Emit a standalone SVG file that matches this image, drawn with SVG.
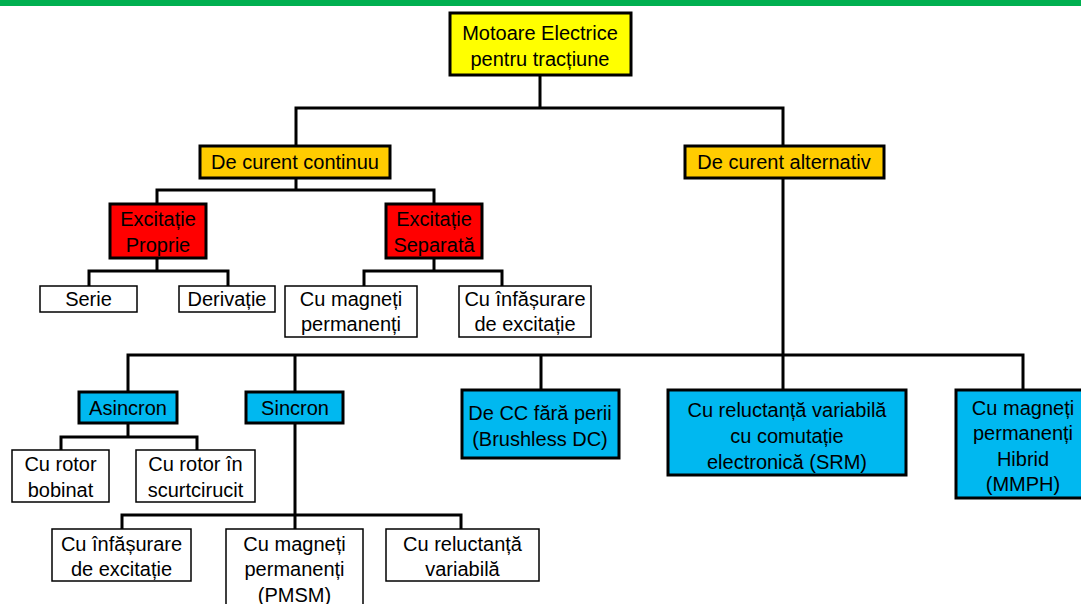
<svg xmlns="http://www.w3.org/2000/svg" width="1081" height="604" viewBox="0 0 1081 604">
<style>
  .t{font-family:"Liberation Sans",Arial,sans-serif;font-size:20px;fill:#000;text-anchor:middle}
  .b{stroke:#000;stroke-width:3}
  .leaf{fill:#fff;stroke:#000;stroke-width:1.5}
  .y{fill:#ffff00}
  .g{fill:#ffcc00}
  .r{fill:#ff0000}
  .c{fill:#00b8f0}
  .con{fill:none;stroke:#000;stroke-width:3;stroke-linecap:square;stroke-linejoin:miter}
</style>
<rect x="0" y="0" width="1081" height="604" fill="#fff"/>
<rect x="0" y="0" width="1081" height="6" fill="#00b050"/>
<g id="connectors" class="con">
  <path d="M540 75 V108 M296 108 H783 M296 108 V146 M783 108 V146"/>
  <path d="M296 178 V190 M157 190 H434 M157 190 V204 M434 190 V204"/>
  <path d="M157 258 V271 M89 271 H228 M89 271 V286 M228 271 V286"/>
  <path d="M434 258 V271 M364 271 H502 M364 271 V286 M502 271 V286"/>
  <path d="M783 178 V390 M128 355 H1023 M128 355 V392 M295 355 V392 M541 355 V390 M1023 355 V390"/>
  <path d="M128 423 V437 M61 437 H197 M61 437 V450 M197 437 V450"/>
  <path d="M295 423 V529 M122 515 H461 M122 515 V529 M461 515 V529"/>
</g>
<g id="root"><rect class="b y" x="450" y="13" width="181" height="62"/><text class="t" x="540" y="40">Motoare Electrice</text><text class="t" x="540" y="66">pentru tracțiune</text></g>
<g id="dc"><rect class="b g" x="200" y="146" width="190" height="32"/><text class="t" x="295" y="169">De curent continuu</text></g>
<g id="ac"><rect class="b g" x="685" y="146" width="199" height="32"/><text class="t" x="784" y="169">De curent alternativ</text></g>
<g id="exc-proprie"><rect class="b r" x="110" y="204" width="96" height="54"/><text class="t" x="158" y="226">Excitație</text><text class="t" x="158" y="252">Proprie</text></g>
<g id="exc-separata"><rect class="b r" x="386" y="204" width="96" height="54"/><text class="t" x="434" y="226">Excitație</text><text class="t" x="434" y="252">Separată</text></g>
<g id="serie"><rect class="leaf" x="40" y="286" width="97" height="26"/><text class="t" x="88.5" y="306">Serie</text></g>
<g id="derivatie"><rect class="leaf" x="179" y="286" width="96" height="26"/><text class="t" x="227" y="306">Derivație</text></g>
<g id="cc-magneti"><rect class="leaf" x="285" y="286" width="132" height="51"/><text class="t" x="351" y="306">Cu magneți</text><text class="t" x="351" y="331">permanenți</text></g>
<g id="cc-infasurare"><rect class="leaf" x="459" y="286" width="132" height="51"/><text class="t" x="525" y="306">Cu înfășurare</text><text class="t" x="525" y="331">de excitație</text></g>
<g id="asincron"><rect class="b c" x="79" y="392" width="98" height="31"/><text class="t" x="128" y="415">Asincron</text></g>
<g id="sincron"><rect class="b c" x="246" y="392" width="97" height="31"/><text class="t" x="295" y="415">Sincron</text></g>
<g id="bldc"><rect class="b c" x="462" y="390" width="157" height="68"/><text class="t" x="540" y="420">De CC fără perii</text><text class="t" x="540" y="446">(Brushless DC)</text></g>
<g id="srm"><rect class="b c" x="668" y="390" width="238" height="85"/><text class="t" x="787" y="417">Cu reluctanță variabilă</text><text class="t" x="787" y="443">cu comutație</text><text class="t" x="787" y="469">electronică (SRM)</text></g>
<g id="mmph"><rect class="b c" x="956" y="390" width="128" height="108"/><text class="t" x="1023" y="415">Cu magneți</text><text class="t" x="1023" y="440">permanenți</text><text class="t" x="1023" y="466">Hibrid</text><text class="t" x="1023" y="491">(MMPH)</text></g>
<g id="rotor-bobinat"><rect class="leaf" x="12" y="450" width="97" height="52"/><text class="t" x="60.5" y="471">Cu rotor</text><text class="t" x="60.5" y="497">bobinat</text></g>
<g id="rotor-scurtcircuit"><rect class="leaf" x="136" y="450" width="119" height="52"/><text class="t" x="195.5" y="471">Cu rotor în</text><text class="t" x="195.5" y="497">scurtcirucit</text></g>
<g id="s-infasurare"><rect class="leaf" x="52" y="529" width="139" height="52"/><text class="t" x="121.5" y="551">Cu înfășurare</text><text class="t" x="121.5" y="576">de excitație</text></g>
<g id="pmsm"><rect class="leaf" x="226" y="529" width="137" height="82"/><text class="t" x="294.5" y="551">Cu magneți</text><text class="t" x="294.5" y="576">permanenți</text><text class="t" x="294.5" y="602">(PMSM)</text></g>
<g id="s-reluctanta"><rect class="leaf" x="386" y="529" width="153" height="52"/><text class="t" x="462.5" y="551">Cu reluctanță</text><text class="t" x="462.5" y="576">variabilă</text></g>
</svg>
